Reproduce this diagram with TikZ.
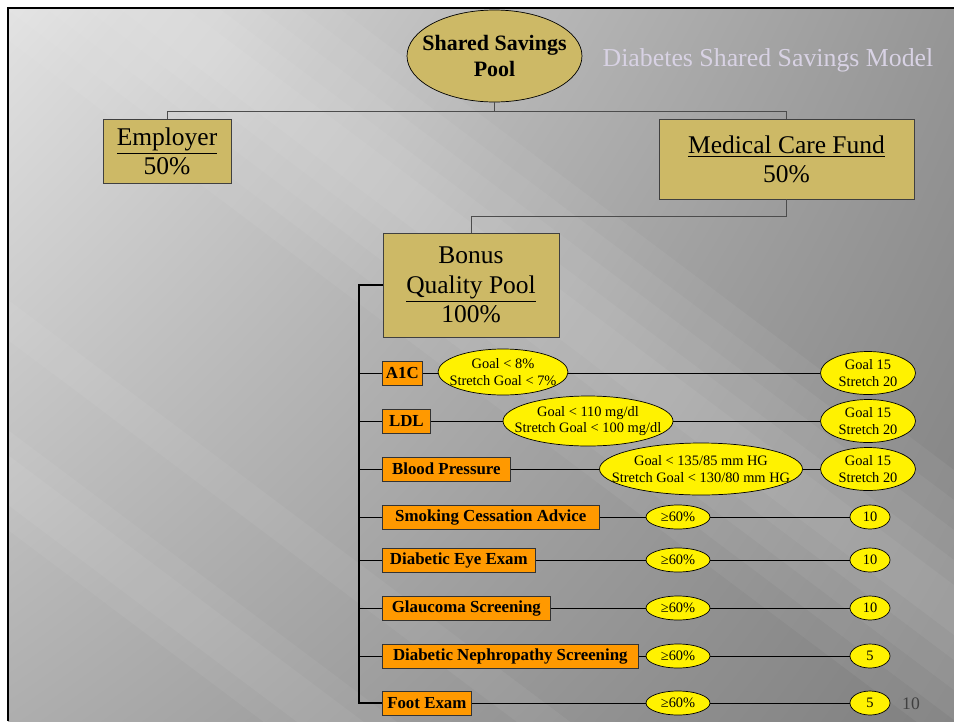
\documentclass[tikz,border=0pt]{standalone}
\usepackage{fontspec}
\setmainfont{Liberation Serif}
\usetikzlibrary{shapes.geometric,shadings}

\definecolor{fundtan}{RGB}{205,185,102}
\definecolor{measureorange}{RGB}{255,153,0}
\definecolor{titlelilac}{RGB}{216,210,228}
\definecolor{slideul}{RGB}{226,226,226}
\definecolor{slideur}{RGB}{150,150,150}
\definecolor{slidell}{RGB}{174,174,174}
\definecolor{slidelr}{RGB}{128,128,128}

\tikzset{
  fund/.style={draw=black!75, fill=fundtan, inner sep=0pt, align=center, font=\fontsize{14.5}{16.5}\selectfont},
  measure/.style={draw=black!80, fill=measureorange, inner sep=0pt, anchor=west, minimum height=0.48cm, font=\bfseries\fontsize{9.6}{11}\selectfont},
  goal/.style={ellipse, draw, fill=yellow, inner xsep=-30pt, inner ysep=-10pt, align=center, font=\fontsize{8.2}{9.3}\selectfont},
  link/.style={black, line width=0.45pt},
  branch/.style={black!70, line width=0.5pt},
  ray/.style={white, opacity=0.05},
}

\begin{document}
\begin{tikzpicture}[x=0.02cm, y=-0.02cm]
    \useasboundingbox (0,0) rectangle (954,721);
    \shade[upper left=slideul, upper right=slideur, lower left=slidell, lower right=slidelr] (8,8) rectangle (954,721);
    \begin{scope}
        \clip (8,8) rectangle (954,721);
        % light rays
        \fill[ray] (8,-240) -- (954,470) -- (954,750) -- (8,40) -- cycle;
        \fill[ray] (8,-210) -- (954,500) -- (954,720) -- (8,10) -- cycle;
        \fill[ray] (8,-180) -- (954,530) -- (954,690) -- (8,-20) -- cycle;
        \fill[ray] (8,-150) -- (954,560) -- (954,660) -- (8,-50) -- cycle;
        \fill[ray] (8,-125) -- (954,585) -- (954,635) -- (8,-75) -- cycle;
        \fill[ray] (8,430) -- (954,1140) -- (954,1240) -- (8,530) -- cycle;
        \fill[ray] (8,455) -- (954,1165) -- (954,1215) -- (8,505) -- cycle;
        \fill[ray] (8,300) -- (954,1010) -- (954,1050) -- (8,340) -- cycle;
    \end{scope}
    \draw[line width=1.7pt] (8,721) -- (8,8) -- (954,8);

    \node[fund, ellipse, draw=black, inner xsep=-30pt, inner ysep=-10pt, minimum width=3.5cm, minimum height=1.84cm,
          font=\bfseries\fontsize{12.5}{14.7}\selectfont] (pool) at (494.5,56) {Shared Savings\\Pool};
    \node[text=titlelilac, font=\fontsize{14.7}{17}\selectfont] (title) at (768,60) {Diabetes Shared Savings Model};

    \node[fund, minimum width=2.56cm, minimum height=1.28cm] (employer) at (167,151) {\underline{Employer}\\50\%};
    \node[fund, minimum width=5.1cm, minimum height=1.6cm] (medical) at (786.5,159) {\underline{Medical Care Fund}\\50\%};
    \node[fund, minimum width=3.52cm, minimum height=2.08cm, font=\fontsize{14.5}{16.8}\selectfont] (bonus) at (471,285) {Bonus\\\underline{Quality Pool}\\100\%};

    \draw[branch] (pool.south) -- ++(0,9) -| (employer.north);
    \draw[branch] (pool.south) -- ++(0,9) -| (medical.north);
    \draw[branch] (medical.south) -- ++(0,17) -| (bonus.north);

    % quality measures
    \node[measure, minimum width=0.8cm] (a1c) at (382,373) {A1C};
    \node[measure, minimum width=0.96cm] (ldl) at (382,421) {LDL};
    \node[measure, minimum width=2.56cm] (bp) at (382,469) {Blood Pressure};
    \node[measure, minimum width=4.34cm] (smoke) at (382,517) {Smoking Cessation Advice};
    \node[measure, minimum width=3.06cm] (eye) at (382,560) {Diabetic Eye Exam};
    \node[measure, minimum width=3.36cm] (glauc) at (382,608) {Glaucoma Screening};
    \node[measure, minimum width=5.12cm] (neph) at (382,656) {Diabetic Nephropathy Screening};
    \node[measure, minimum width=1.78cm] (foot) at (382,703) {Foot Exam};

    \coordinate (trunk) at (359,285);
    \draw[line width=1.1pt] (bonus.west) -- (trunk) |- (foot.west);
    \draw[link] (trunk |- a1c.west) -- (a1c.west);
    \draw[link] (trunk |- ldl.west) -- (ldl.west);
    \draw[link] (trunk |- bp.west) -- (bp.west);
    \draw[link] (trunk |- smoke.west) -- (smoke.west);
    \draw[link] (trunk |- eye.west) -- (eye.west);
    \draw[link] (trunk |- glauc.west) -- (glauc.west);
    \draw[link] (trunk |- neph.west) -- (neph.west);

    % goals and points
    \node[goal, minimum width=2.6cm, minimum height=0.92cm] (a1cgoal) at (503,372) {Goal < 8\%\\Stretch Goal < 7\%};
    \node[goal, minimum width=3.4cm, minimum height=1cm] (ldlgoal) at (588,421) {Goal < 110 mg/dl\\Stretch Goal < 100 mg/dl};
    \node[goal, minimum width=4.06cm, minimum height=1.04cm] (bpgoal) at (701,469) {Goal < 135/85 mm HG\\Stretch Goal < 130/80 mm HG};
    \node[goal, minimum width=1.9cm, minimum height=0.86cm] (a1cpts) at (868,373) {Goal 15\\Stretch 20};
    \node[goal, minimum width=1.9cm, minimum height=0.86cm] (ldlpts) at (868,421) {Goal 15\\Stretch 20};
    \node[goal, minimum width=1.9cm, minimum height=0.86cm] (bppts) at (868,469) {Goal 15\\Stretch 20};

    \node[goal, minimum width=1.28cm, minimum height=0.48cm] (smokegoal) at (678,517) {≥60\%};
    \node[goal, minimum width=1.28cm, minimum height=0.48cm] (eyegoal) at (678,560) {≥60\%};
    \node[goal, minimum width=1.28cm, minimum height=0.48cm] (glaucgoal) at (678,608) {≥60\%};
    \node[goal, minimum width=1.28cm, minimum height=0.48cm] (nephgoal) at (678,656) {≥60\%};
    \node[goal, minimum width=1.28cm, minimum height=0.48cm] (footgoal) at (678,703) {≥60\%};
    \node[goal, minimum width=0.8cm, minimum height=0.48cm] (smokepts) at (870,517) {10};
    \node[goal, minimum width=0.8cm, minimum height=0.48cm] (eyepts) at (870,560) {10};
    \node[goal, minimum width=0.8cm, minimum height=0.48cm] (glaucpts) at (870,608) {10};
    \node[goal, minimum width=0.8cm, minimum height=0.48cm] (nephpts) at (870,656) {5};
    \node[goal, minimum width=0.8cm, minimum height=0.48cm] (footpts) at (870,703) {5};

    \draw[link] (a1c) -- (a1cgoal.west |- a1c);
    \draw[link] (a1cgoal.east |- a1c) -- (a1cpts);
    \draw[link] (ldl) -- (ldlgoal) -- (ldlpts);
    \draw[link] (bp) -- (bpgoal) -- (bppts);
    \draw[link] (smoke) -- (smokegoal) -- (smokepts);
    \draw[link] (eye) -- (eyegoal) -- (eyepts);
    \draw[link] (glauc) -- (glaucgoal) -- (glaucpts);
    \draw[link] (neph) -- (nephgoal) -- (nephpts);
    \draw[link] (foot) -- (footgoal) -- (footpts);

    \node[text=black!75, font=\fontsize{10}{11}\selectfont] (pagenum) at (911,704) {10};
\end{tikzpicture}
\end{document}
